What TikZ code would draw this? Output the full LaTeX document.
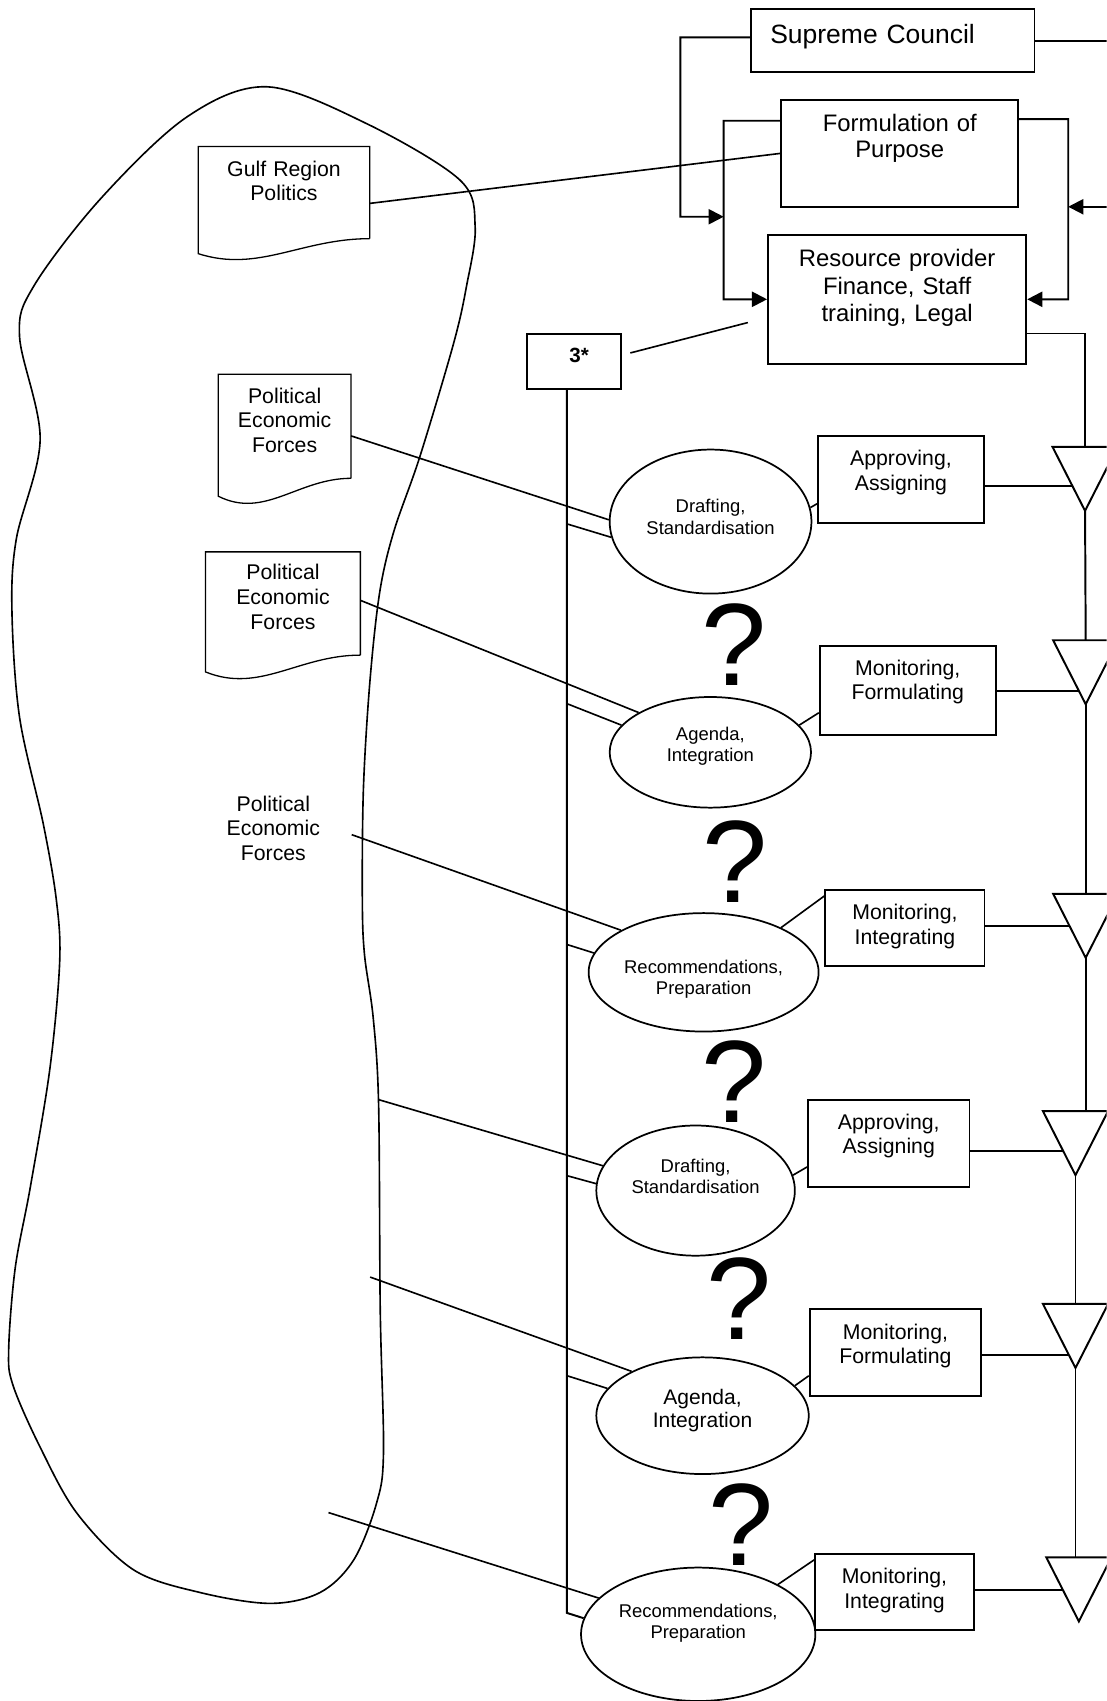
\documentclass[tikz,border=0pt]{standalone}
\usepackage{fontspec}
\setmainfont{Liberation Sans}
\usetikzlibrary{arrows.meta,shapes.geometric,calc}

\begin{document}
\begin{tikzpicture}[x=1pt,y=-1pt,
    every node/.style={font=\fontsize{19.6}{22.5}\selectfont},
    conn/.style={line width=1.8pt},
    link/.style={line width=1.5pt},
    arr/.style={conn,-{Triangle[length=14pt,width=14pt]}},
    topbox/.style={rectangle,draw,line width=1.8pt,inner ysep=0pt,align=center},
    actbox/.style={topbox,text width=130pt,text height=27.3pt},
    proc/.style={ellipse,draw,line width=1.6pt,inner sep=0pt,align=center,
                 text width=122pt,text height=12pt,font=\fontsize{17}{20}\selectfont},
    docbox/.style={rectangle,inner ysep=0pt,align=center},
    docln/.style={line width=1.2pt},
    qmark/.style={anchor=base,inner sep=0pt,font=\fontsize{108}{120}\selectfont}]
  \useasboundingbox[fill=white] (0,0) rectangle (1020,1568);
  \clip (0,0) rectangle (1020,1568);

  \draw[link] plot[smooth cycle,tension=0.55] coordinates {(246,80) (338,114) (424,166)
    (438,209) (430,264) (418,317) (387,421) (363,490) (350,546) (341,628) (335,727)
    (334,830) (336,880) (344,938) (349,1018) (350.5,1207) (353.5,1339) (347,1386)
    (326,1438) (295,1468) (249,1478) (184.5,1468) (123,1447) (71,1395) (37,1334)
    (12,1277) (8,1244) (14,1169) (28,1094) (46,985) (55,887) (52,830) (40,760)
    (18,661) (11,563) (15,497) (37,405) (18,310) (31,264) (92,184) (172,108)};

  \node[topbox,text width=226pt,inner xsep=17.5pt,align=left,minimum width=261pt,
        minimum height=58.1pt,text height=32pt,text depth=26.1pt,
        font=\fontsize{24.4}{28}\selectfont] (sc) at (823.1,37.6) {Supreme Council};
  \node[topbox,text width=200pt,minimum width=218.3pt,minimum height=98.4pt,
        text height=29.2pt,text depth=69.2pt,
        font=\fontsize{22}{23.6}\selectfont] (purp) at (829.4,141.4)
    {Formulation of\\Purpose};
  \node[topbox,text width=220pt,minimum width=238pt,minimum height=118.4pt,
        text height=29.3pt,text depth=89.1pt,
        font=\fontsize{22}{25.3}\selectfont] (res) at (827,275.9)
    {Resource provider\\Finance, Staff\\training, Legal};
  \node[topbox,minimum width=87pt,minimum height=50.7pt,text height=13pt,text depth=10.9pt,
        font=\fontsize{19}{22}\selectfont\bfseries] (three) at (528.9,332.8)
    {\hspace*{10pt}3*};

  \node[docbox,text width=140pt,minimum width=157.7pt,minimum height=84.5pt,
        text height=27.6pt,text depth=56.9pt,
        font=\fontsize{19.6}{21.5}\selectfont] (gulf) at (261.75,177.55)
    {Gulf Region\\Politics};
  \node[docbox,text width=108pt,minimum width=122pt,minimum height=95.5pt,
        text height=26.3pt,text depth=69.2pt,
        font=\fontsize{19.6}{22.7}\selectfont] (pef1) at (262.4,392.95)
    {Political\\Economic\\Forces};
  \node[docbox,text width=128pt,minimum width=142.3pt,minimum height=94.8pt,
        text height=25.6pt,text depth=69.2pt,
        font=\fontsize{19.6}{22.7}\selectfont] (pef2) at (260.85,556.3)
    {Political\\Economic\\Forces};
  \node[anchor=base,text width=144pt,inner sep=0pt,align=center,
        font=\fontsize{19.6}{22.8}\selectfont] (pef3) at (252,747.7)
    {Political\\Economic\\Forces};
  \draw[docln] (gulf.south east) -- (gulf.north east) -- (gulf.north west)
    -- ($(gulf.south west)+(0,13.8)$)
    .. controls ($(gulf.south west)!0.35!(gulf.south east)+(0,31.7)$)
    and ($(gulf.south east)!0.4!(gulf.south west)$) .. (gulf.south east);
  \draw[docln] (pef1.south east) -- (pef1.north east) -- (pef1.north west)
    -- ($(pef1.south west)+(0,16.5)$)
    .. controls ($(pef1.south west)!0.35!(pef1.south east)+(0,38)$)
    and ($(pef1.south east)!0.4!(pef1.south west)$) .. (pef1.south east);
  \draw[docln] (pef2.south east) -- (pef2.north east) -- (pef2.north west)
    -- ($(pef2.south west)+(0,15.5)$)
    .. controls ($(pef2.south west)!0.35!(pef2.south east)+(0,35.7)$)
    and ($(pef2.south east)!0.4!(pef2.south west)$) .. (pef2.south east);

  \node[proc,minimum width=186pt,minimum height=132.8pt,text depth=28.1pt]
    (draft1) at (655,480.8) {Drafting,\\Standardisation};
  \node[proc,minimum width=185.6pt,minimum height=102pt,text depth=34.2pt]
    (agen1) at (654.8,693.5) {Agenda,\\Integration};
  \node[proc,text width=148pt,minimum width=212pt,minimum height=109.2pt,text depth=10.6pt]
    (reco1) at (648.6,896.3) {Recommendations,\\Preparation};
  \node[proc,minimum width=183pt,minimum height=120pt,text depth=46pt]
    (draft2) at (641.2,1097.5) {Drafting,\\Standardisation};
  \node[proc,minimum width=195.8pt,minimum height=107.6pt,text height=14pt,text depth=34pt,
        font=\fontsize{19.4}{20.9}\selectfont]
    (agen2) at (647.6,1305) {Agenda,\\Integration};
  \node[proc,text width=148pt,minimum width=216pt,minimum height=123pt,text depth=43.8pt]
    (reco2) at (643.6,1506.5) {Recommendations,\\Preparation};

  \node[actbox,minimum width=152.8pt,minimum height=80.5pt,text depth=53.2pt]
    (appr1) at (830.5,442.2) {Approving,\\Assigning};
  \node[actbox,minimum width=162.3pt,minimum height=82.7pt,text depth=55.4pt]
    (monf1) at (836.8,636.6) {Monitoring,\\Formulating};
  \node[actbox,minimum width=146.6pt,minimum height=70.1pt,text depth=42.8pt]
    (moni1) at (834.2,855.8) {Monitoring,\\Integrating};
  \node[actbox,minimum width=148.8pt,minimum height=80.5pt,text depth=53.2pt]
    (appr2) at (819.3,1054.1) {Approving,\\Assigning};
  \node[actbox,minimum width=158pt,minimum height=79.6pt,text depth=52.3pt]
    (monf2) at (825.4,1246.8) {Monitoring,\\Formulating};
  \node[actbox,minimum width=146pt,minimum height=70.1pt,text depth=42.8pt]
    (moni2) at (824.6,1467.6) {Monitoring,\\Integrating};

  \node[qmark] (q1) at (676.7,631.7) {?};
  \node[qmark] (q2) at (678,831.6) {?};
  \node[qmark] (q3) at (676.4,1034.5) {?};
  \node[qmark] (q4) at (681.7,1235.2) {?};
  \node[qmark] (q5) at (683.3,1443.3) {?};

  \coordinate (scl) at (627.1,34.4);
  \coordinate (scin) at (667.1,199.8);
  \coordinate (scout) at (1030,37.6);
  \coordinate (purpl) at (667.1,111.3);
  \coordinate (purpr) at (984.7,109.8);
  \coordinate (inR) at (1030,190.6);
  \draw[arr] ([yshift=3.2pt]sc.west) -- (scl) |- (scin);
  \draw[conn] (sc.east) -- (scout);
  \draw[arr] ([yshift=30.1pt]purp.west) -- (purpl) |- (res.west);
  \draw[arr] ([yshift=31.6pt]purp.east) -- (purpr) |- (res.east);
  \draw[arr] (inR) -- (inR -| purpr);
  \draw[link] ([yshift=-9.95pt]gulf.east) -- (purp.west);
  \draw[link,shorten <=8pt,shorten >=18.3pt] (three.7) -- (res.188);

  \draw[link] ([yshift=-8.85pt]pef1.east) -- (draft1.179);
  \draw[link] ([yshift=2.9pt]pef2.east) -- (agen1.151);
  \draw[link] ([yshift=-21.7pt]pef3.base east) -- (reco1.153);
  \coordinate (f4) at (349.5,1013.8);
  \coordinate (f5) at (341.2,1177.2);
  \coordinate (f6) at (302.8,1394.3);
  \draw[link] (f4) -- (draft2.165);
  \draw[link] (f5) -- (agen2.148);
  \draw[link] (f6) -- (reco2.160);

  \draw[conn] ([xshift=-6.4pt]three.south) -- ++(0,1127.7) -- (reco2.172);
  \coordinate (b1) at (522.5,482.9);
  \coordinate (b2) at (522.5,648.6);
  \coordinate (b3) at (522.5,870.6);
  \coordinate (b4) at (522.5,1083.7);
  \coordinate (b5) at (522.5,1268.1);
  \draw[link] (b1) -- (draft1.189);
  \draw[link] (b2) -- (agen1.163);
  \draw[link] (b3) -- (reco1.170);
  \draw[link] (b4) -- (draft2.176);
  \draw[link] (b5) -- (agen2.164);

  \draw[link] (draft1.8) -- (appr1.196);
  \draw[link] (agen1.17) -- (monf1.194);
  \draw[link] (reco1.30) -- (moni1.158);
  \draw[link] (draft2.9) -- (appr2.196);
  \draw[link] (agen2.18) -- (monf2.195);
  \draw[link] (reco2.32) -- (moni2.158);

  \foreach \n/\x/\y in {1/1000.2/411.9,2/1000.8/590.2,3/1000.8/823.9,
                        4/991.4/1024.3,5/991.4/1202,6/994.5/1435.6}{
    \coordinate (tri\n) at (\x,\y);
    \coordinate (tip\n) at (\x,\y+59);}
  \draw[conn] ([yshift=-31.5pt]res.east) -| (tri1);
  \draw[conn] (tip1) -- (tri2);
  \draw[conn] (tip2) -- (tri3);
  \draw[conn] (tip3) -- (tip3 |- tri4);
  \draw[conn] (tip4) -- (tri5);
  \draw[conn] (tip5) -- (tip5 |- tri6);
  \draw[conn] ([yshift=-6pt]appr1.east) -| (tip1);
  \draw[conn] (monf1.east) -| (tip2);
  \draw[conn] ([yshift=1.8pt]moni1.east) -| (tip3);
  \draw[conn] ([yshift=-6.5pt]appr2.east) -| (tip4);
  \draw[conn] ([yshift=-1.9pt]monf2.east) -| (tip5);
  \draw[conn] ([yshift=1.8pt]moni2.east) -| (tip6);
  \foreach \n in {1,...,6}
    \filldraw[conn,fill=white] ($(tri\n)+(-30,0)$) -- ($(tri\n)+(30,0)$) -- (tip\n) -- cycle;
\end{tikzpicture}
\end{document}
